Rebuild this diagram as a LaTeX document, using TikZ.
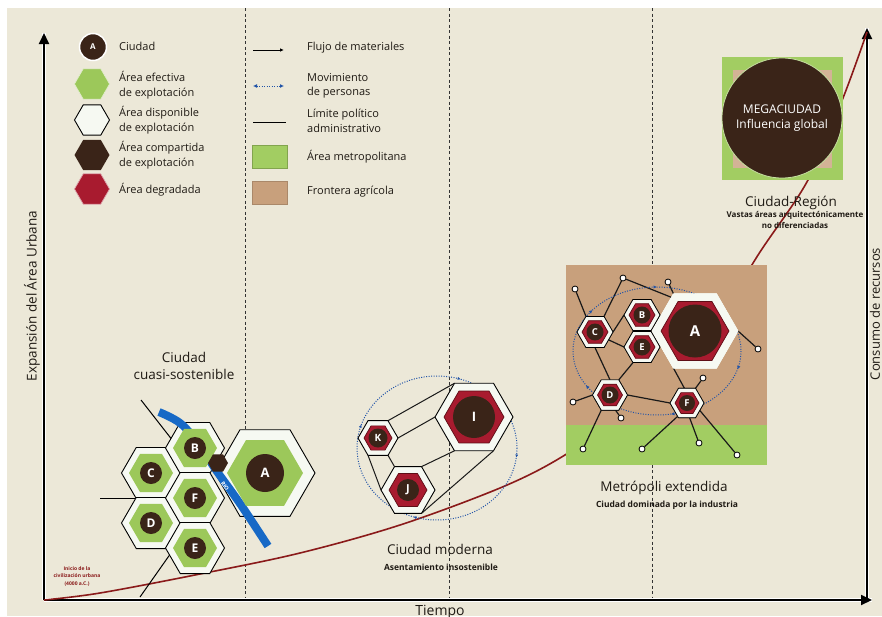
\documentclass[tikz,border=0pt]{standalone}
\usepackage{fontspec}
\setmainfont{Open Sans}
\usetikzlibrary{shapes.geometric,arrows.meta,decorations.markings}
\definecolor{bg}{HTML}{ECE8D8}
\definecolor{hgreen}{HTML}{9CC85A}
\definecolor{hred}{HTML}{A81B2F}
\definecolor{dred}{HTML}{5E0E16}
\definecolor{cbrown}{HTML}{3A2418}
\definecolor{tanc}{HTML}{C8A07C}
\definecolor{mgreen}{HTML}{A2CD62}
\definecolor{curvec}{HTML}{8A1A1A}
\definecolor{pblue}{HTML}{2154A8}
\definecolor{riverc}{HTML}{1769C6}
\definecolor{txt}{HTML}{1F1A14}
\definecolor{hwhite}{HTML}{F6F9F2}
\newcommand\fsz[2]{\fontsize{#1}{#2}\selectfont}
\begin{document}
\begin{tikzpicture}[x=1pt,y=-1pt,
  hexo/.style={regular polygon,regular polygon sides=6,inner sep=0pt,outer sep=0pt,draw=black,line width=0.9pt,fill=hwhite},
  hexw/.style={regular polygon,regular polygon sides=6,inner sep=0pt,outer sep=0pt,draw=hwhite,line width=0.6pt,fill=hwhite},
  hexg/.style={regular polygon,regular polygon sides=6,inner sep=0pt,outer sep=0pt,fill=hgreen},
  hexr/.style={regular polygon,regular polygon sides=6,inner sep=0pt,outer sep=0pt,fill=hred,draw=dred,line width=0.7pt},
  hexb/.style={regular polygon,regular polygon sides=6,inner sep=0pt,outer sep=0pt,fill=cbrown},
  cityc/.style={circle,inner sep=0pt,outer sep=0pt,fill=cbrown,text=white},
  lab/.style={text=txt,align=left,inner sep=0pt,font=\fsz{11}{14.5}},
  ttl/.style={text=txt,align=center,inner sep=0pt,font=\fsz{13.5}{17}},
  sub/.style={text=txt,align=center,inner sep=0pt,font=\bfseries\fsz{8.5}{12}},
  vdash/.style={draw=black!80,line width=1pt,dash pattern=on 3pt off 2.5pt},
  pol/.style={draw=black,line width=1pt},
  mlink/.style={draw=black!90,line width=1.2pt},
  freeend/.style={circle,draw=black,fill=white,line width=0.8pt,inner sep=0pt,minimum size=6pt},
  moveline/.style={draw=pblue,line width=1pt,dash pattern=on 1pt off 1.5pt},
  axis/.style={draw=black,line width=1.8pt,-{Triangle[length=11pt,width=10pt]}},
  axisglow/.style={draw=white,line width=4pt}
]
\useasboundingbox (0,0) rectangle (882,616);
\fill[white] (0,0) rectangle (882,616);
\fill[bg] (7,8) rectangle (882,616);

% dashed time dividers
\coordinate (d1t) at (245,8); \coordinate (d1b) at (245,600);
\coordinate (d2t) at (449,8); \coordinate (d2b) at (449,600);
\coordinate (d3t) at (652,8); \coordinate (d3b) at (652,600);
\draw[vdash] (d1t) -- (d1b);
\draw[vdash] (d2t) -- (d2b);
\draw[vdash] (d3t) -- (d3b);

% axes
\coordinate (O) at (44,600);
\coordinate (Ytop) at (44,33);
\coordinate (Xend) at (872,600);
\coordinate (R0) at (867,600);
\coordinate (Rtop) at (867,28);
\draw[axisglow] (O) -- (Ytop);
\draw[axisglow] (O) -- (Xend);
\draw[axisglow] (R0) -- (Rtop);
\draw[axis] (O) -- (Ytop);
\draw[axis] (O) -- (Xend);
\draw[axis] (R0) -- (Rtop);

% growth curve
\draw[curvec,line width=1.6pt] plot[smooth,tension=0.55] coordinates {(44,600) (100,593) (200,574) (300,553) (400,525) (500,488) (560,458) (620,416) (700,345) (760,252) (808,180) (843,98) (867,32)};

\node[text=curvec,align=center,inner sep=0pt,font=\bfseries\fsz{5}{7.5}] (inicio) at (77,576) {Inicio de la\\civilización urbana\\(4000 a.C.)};

% axis labels
\node[text=txt,rotate=90,inner sep=0pt,font=\fsz{13.5}{15}] (ylab) at (32,296) {Expansión del Área Urbana};
\node[text=txt,rotate=90,inner sep=0pt,font=\fsz{13}{15}] (rlab) at (875,314) {Consumo de recursos};
\node[text=txt,inner sep=0pt,font=\fsz{14}{15}] (xlab) at (440,612) {Tiempo};

% ---------------- legend ----------------
\node[cityc,minimum size=27pt,draw=white,line width=1.5pt,font=\bfseries\fsz{8}{8}] (lgA) at (93,47) {A};
\node[hexg,minimum size=35pt,draw=white!70!hgreen,line width=0.6pt] (lgG) at (92,84) {};
\node[hexo,minimum size=35pt] (lgW) at (92,120) {};
\node[hexb,minimum size=35pt] (lgB) at (92,155) {};
\node[hexr,minimum size=35pt,draw=white!60!hred] (lgR) at (92,189) {};

\node[lab,anchor=west] (tl1) at (119,46) {Ciudad};
\node[lab,anchor=west] (tl2) at (119,85) {Área efectiva\\de explotación};
\node[lab,anchor=west] (tl3) at (119,120) {Área disponible\\de explotación};
\node[lab,anchor=west] (tl4) at (119,155) {Área compartida\\de explotación};
\node[lab,anchor=west] (tl5) at (119,190) {Área degradada};

\coordinate (la1) at (253,50); \coordinate (la2) at (284,50);
\draw[black,line width=1pt,-{Latex[length=4pt,width=3.5pt]}] (la1) -- (la2);
\coordinate (lb1) at (253,86); \coordinate (lb2) at (284,86);
\draw[moveline,{Latex[length=4pt,width=4pt]}-{Latex[length=4pt,width=4pt]}] (lb1) -- (lb2);
\coordinate (lc1) at (253,122); \coordinate (lc2) at (286,122);
\draw[black,line width=1pt] (lc1) -- (lc2);
\node[fill=mgreen,draw=mgreen!80!black,line width=0.4pt,minimum width=35pt,minimum height=23pt,inner sep=0pt] (lgM) at (269.5,157) {};
\node[fill=tanc,draw=tanc!85!black,line width=0.4pt,minimum width=35pt,minimum height=23pt,inner sep=0pt] (lgT) at (269.5,193) {};

\node[lab,anchor=west] (tr1) at (307,48) {Flujo de materiales};
\node[lab,anchor=west] (tr2) at (307,86) {Movimiento\\de personas};
\node[lab,anchor=west] (tr3) at (307,121) {Límite político\\administrativo};
\node[lab,anchor=west] (tr4) at (307,157) {Área metropolitana};
\node[lab,anchor=west] (tr5) at (307,192) {Frontera agrícola};

% ---------------- Ciudad cuasi-sostenible ----------------
\node[ttl] (t1) at (184,366) {Ciudad\\cuasi-sostenible};

\coordinate (pa1) at (141,400); \coordinate (pa2) at (205,482);
\coordinate (pb1) at (100,498); \coordinate (pb2) at (135,498);
\coordinate (pc1) at (140,597); \coordinate (pc2) at (178,543);
\draw[pol] (pa1) -- (pa2);
\draw[pol] (pb1) -- (pb2);
\draw[pol] (pc1) -- (pc2);

\node[hexo,minimum size=59pt] (hC) at (151,473) {};
\node[hexo,minimum size=59pt] (hD) at (151,523) {};
\node[hexo,minimum size=59pt] (hB) at (195,448) {};
\node[hexo,minimum size=59pt] (hF) at (195,498) {};
\node[hexo,minimum size=59pt] (hE) at (195,548) {};
\node[hexo,minimum size=100pt] (hA) at (265,473) {};

\draw[riverc,line width=8pt] plot[smooth,tension=0.6] coordinates {(159,412) (180,423) (197,442) (216,470) (241,505) (268,546)};

\node[hexg,minimum size=44pt] (gC) at (hC) {};
\node[hexg,minimum size=44pt] (gD) at (hD) {};
\node[hexg,minimum size=44pt] (gB) at (hB) {};
\node[hexg,minimum size=44pt] (gF) at (hF) {};
\node[hexg,minimum size=44pt] (gE) at (hE) {};
\node[hexg,minimum size=76pt] (gA) at (hA) {};
\node[cityc,minimum size=22pt,font=\bfseries\fsz{12}{12}] (cC) at (hC) {C};
\node[cityc,minimum size=22pt,font=\bfseries\fsz{12}{12}] (cD) at (hD) {D};
\node[cityc,minimum size=22pt,font=\bfseries\fsz{12}{12}] (cB) at (hB) {B};
\node[cityc,minimum size=22pt,font=\bfseries\fsz{12}{12}] (cF) at (hF) {F};
\node[cityc,minimum size=22pt,font=\bfseries\fsz{12}{12}] (cE) at (hE) {E};
\node[cityc,minimum size=38pt,font=\bfseries\fsz{13}{13}] (cA) at (hA) {A};
\node[hexb,minimum size=20pt] (shared) at (218,463) {};
\node[text=white,rotate=-55,inner sep=0pt,font=\bfseries\fsz{5.5}{6}] (rio) at (225,486) {RIO};

% ---------------- Ciudad moderna ----------------
\draw[moveline,postaction={decorate,decoration={markings,
  mark=at position 0.02 with {\arrow[pblue]{Latex[length=3pt,width=3pt]}},
  mark=at position 0.3 with {\arrow[pblue]{Latex[length=3pt,width=3pt]}},
  mark=at position 0.55 with {\arrow[pblue]{Latex[length=3pt,width=3pt]}},
  mark=at position 0.8 with {\arrow[pblue]{Latex[length=3pt,width=3pt]}}}}]
  (437,448) ellipse [x radius=80, y radius=72];

\node[hexo,minimum size=78pt] (hI) at (474,417) {};
\node[hexo,minimum size=40pt] (hK) at (378,438) {};
\node[hexo,minimum size=54pt] (hJ) at (408,490) {};
\draw[mlink,line width=1pt] (hK.60) -- (hI.120);
\draw[mlink,line width=1pt] (hK.0) -- (hI.180);
\draw[mlink,line width=1pt] (hK.300) -- (hJ.120);
\draw[mlink,line width=1pt] (hK.240) -- (hJ.180);
\draw[mlink,line width=1pt] (hJ.60) -- (hI.240);
\draw[mlink,line width=1pt] (hJ.300) -- (hI.300);
\node[hexr,minimum size=60pt] (rI) at (hI) {};
\node[hexr,minimum size=28pt] (rK) at (hK) {};
\node[hexr,minimum size=38pt] (rJ) at (hJ) {};
\node[cityc,minimum size=42pt,font=\bfseries\fsz{13}{13}] (cI) at (hI) {I};
\node[cityc,minimum size=19pt,font=\bfseries\fsz{10}{10}] (cK) at (hK) {K};
\node[cityc,minimum size=22pt,font=\bfseries\fsz{11}{11}] (cJ) at (hJ) {J};

\node[ttl] (t2) at (440,549) {Ciudad moderna};
\node[sub] (s2) at (441,567) {Asentamiento insostenible};

% ---------------- Metrópoli extendida ----------------
\fill[tanc] (566,265) rectangle (767,426);
\fill[mgreen] (566,425) rectangle (767,465);

\node[hexw,minimum size=86pt] (mA) at (695,331) {};
\node[hexo,minimum size=36pt,line width=0.7pt] (mB) at (642,315) {};
\node[hexo,minimum size=36pt,line width=0.7pt] (mE) at (642,347) {};
\node[hexo,minimum size=36pt,line width=0.7pt] (mC) at (595,332) {};
\node[hexo,minimum size=35pt,line width=0.7pt] (mD) at (610,395) {};
\node[hexo,minimum size=34pt,line width=0.7pt] (mF) at (687,403) {};

\node[freeend] (p1) at (575,289) {};
\node[freeend] (p2) at (623,278) {};
\node[freeend] (p3) at (668,282) {};
\node[freeend] (p4) at (758,349) {};
\node[freeend] (p5) at (573,402) {};
\node[freeend] (p6) at (621,418) {};
\node[freeend] (p7) at (583,449) {};
\node[freeend] (p8) at (703,378) {};
\node[freeend] (p9) at (642,449) {};
\node[freeend] (p10) at (699,443) {};
\node[freeend] (p11) at (737,455) {};

\draw[mlink] (p1) -- (mC.120);
\draw[mlink] (p2) -- (mC.60);
\draw[mlink] (p2) -- (mA.125);
\draw[mlink] (p3) -- (mA.120);
\draw[mlink] (p4) -- (mA.0);
\draw[mlink] (p5) -- (mD.180);
\draw[mlink] (p6) -- (mD.290);
\draw[mlink] (p7) -- (mD.240);
\draw[mlink] (p8) -- (mF.60);
\draw[mlink] (p9) -- (mF.235);
\draw[mlink] (p10) -- (mF.280);
\draw[mlink] (p11) -- (mF.330);
\draw[mlink] (mC.0) -- (mB.180);
\draw[mlink] (mC.330) -- (mE.180);
\draw[mlink] (mC.270) -- (mD.90);
\draw[mlink] (mE.240) -- (mD.60);
\draw[mlink] (mD.0) -- (mF.180);
\draw[mlink] (mA.240) -- (mF.100);

\draw[moveline,postaction={decorate,decoration={markings,
  mark=at position 0.04 with {\arrow[pblue]{Latex[length=3.5pt,width=3.5pt]}},
  mark=at position 0.22 with {\arrow[pblue]{Latex[length=3.5pt,width=3.5pt]}},
  mark=at position 0.42 with {\arrow[pblue]{Latex[length=3.5pt,width=3.5pt]}},
  mark=at position 0.6 with {\arrow[pblue]{Latex[length=3.5pt,width=3.5pt]}},
  mark=at position 0.75 with {\arrow[pblue]{Latex[length=3.5pt,width=3.5pt]}},
  mark=at position 0.92 with {\arrow[pblue]{Latex[length=3.5pt,width=3.5pt]}}}}]
  (657,351) ellipse [x radius=84, y radius=64];

% hexes drawn again on top of the links
\node[hexw,minimum size=86pt] (mA2) at (mA) {};
\node[hexo,minimum size=36pt,line width=0.7pt] (mB2) at (mB) {};
\node[hexo,minimum size=36pt,line width=0.7pt] (mE2) at (mE) {};
\node[hexo,minimum size=36pt,line width=0.7pt] (mC2) at (mC) {};
\node[hexo,minimum size=35pt,line width=0.7pt] (mD2) at (mD) {};
\node[hexo,minimum size=34pt,line width=0.7pt] (mF2) at (mF) {};
\node[hexr,minimum size=68pt] (rmA) at (mA) {};
\node[hexr,minimum size=26pt] (rmB) at (mB) {};
\node[hexr,minimum size=26pt] (rmE) at (mE) {};
\node[hexr,minimum size=26pt] (rmC) at (mC) {};
\node[hexr,minimum size=25pt] (rmD) at (mD) {};
\node[hexr,minimum size=24pt] (rmF) at (mF) {};
\node[cityc,minimum size=53pt,font=\bfseries\fsz{15}{15}] (cmA) at (mA) {A};
\node[cityc,minimum size=17pt,font=\bfseries\fsz{9.5}{9.5}] (cmB) at (mB) {B};
\node[cityc,minimum size=17pt,font=\bfseries\fsz{9.5}{9.5}] (cmE) at (mE) {E};
\node[cityc,minimum size=17pt,font=\bfseries\fsz{9.5}{9.5}] (cmC) at (mC) {C};
\node[cityc,minimum size=17pt,font=\bfseries\fsz{9.5}{9.5}] (cmD) at (mD) {D};
\node[cityc,minimum size=16pt,font=\bfseries\fsz{9.5}{9.5}] (cmF) at (mF) {F};

\node[ttl] (t3) at (664,488) {Metrópoli extendida};
\node[sub] (s3) at (667,505) {Ciudad dominada por la industria};

% ---------------- Megaciudad ----------------
\fill[mgreen] (722,57) rectangle (843,180);
\fill[tanc!80!white] (733,70) rectangle (832,168);
\node[circle,fill=cbrown,draw=mgreen!60!white,line width=0.8pt,minimum size=120pt,inner sep=0pt,text=white,align=center,font=\fsz{12}{15.5}] (mega) at (782,118) {MEGACIUDAD\\Influencia global};

\node[ttl] (t4) at (791,203) {Ciudad-Región};
\node[sub,font=\bfseries\fsz{8}{11.5}] (s4) at (795,220) {Vastas áreas arquitectónicamente\\no diferenciadas};

\end{tikzpicture}
\end{document}
